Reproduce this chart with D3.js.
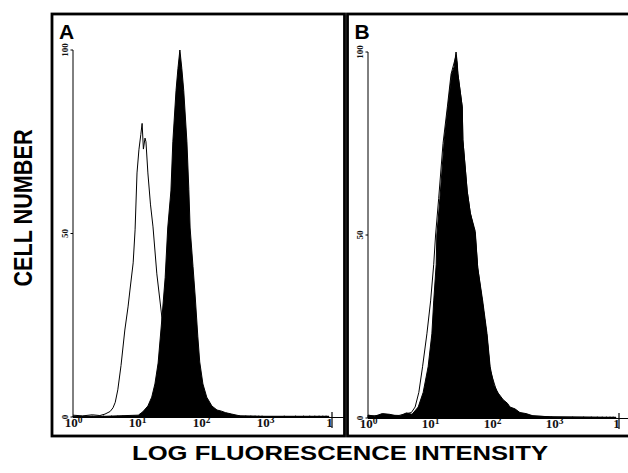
<!DOCTYPE html>
<html><head><meta charset="utf-8">
<script src="https://cdn.jsdelivr.net/npm/d3@7"></script>
<style>body{margin:0;background:#fff}svg{display:block}</style>
</head><body>
<svg id="c" width="628" height="473"></svg>
<script>
// ---------- data ----------
const xTicks = [1, 10, 100, 1000, 10000];
const xTickBase = ["10", "10", "10", "10", "1"];
const xTickExp  = ["0", "1", "2", "3", ""];
const yTicks = [0, 50, 100];
const yTickLabels = ["0", "50", "100"];
const panelLabels = ["A", "B"];
const xTitle = "LOG FLUORESCENCE INTENSITY";
const yTitle = "CELL NUMBER";

// Panel A, open (control) histogram: log10 intensity and cell number
const aOpenLog   = [0, 0.15, 0.3, 0.42, 0.5, 0.58, 0.625, 0.66, 0.70, 0.75, 0.81, 0.86, 0.89, 0.94, 0.97, 1.0, 1.03, 1.06, 1.08, 1.10, 1.125, 1.14, 1.17, 1.21, 1.25, 1.31, 1.39, 1.47, 1.55, 1.64, 1.8, 2.2, 3, 4];
const aOpenCount = [0.5, 0.3, 0.6, 0.4, 0.8, 1.5, 2.5, 4, 7.4, 14, 23.7, 30, 34.6, 42, 51, 66.5, 72.8, 77, 80, 73, 76, 75, 66.5, 58, 51.8, 39, 27, 15, 6, 2, 0.6, 0.3, 0.2, 0.2];
// Panel A, filled (stained) histogram
const aFillLog   = [0, 0.5, 1.02, 1.09, 1.17, 1.23, 1.28, 1.33, 1.39, 1.44, 1.48, 1.53, 1.56, 1.61, 1.64, 1.67, 1.70, 1.73, 1.78, 1.81, 1.83, 1.875, 1.91, 1.95, 1.98, 2.03, 2.09, 2.17, 2.25, 2.32, 2.38, 2.48, 2.61, 3, 4];
const aFillCount = [0.2, 0.2, 0.5, 1.4, 3, 5.4, 9, 14.7, 27, 38, 51.5, 61.6, 75, 89, 95, 100, 95, 89, 75, 62, 51.5, 41, 32.7, 22, 15, 9, 5.4, 3, 1.9, 1.6, 1.2, 0.8, 0.3, 0.1, 0.1];
// Panel B, open (control) histogram
const bOpenLog   = [0, 0.3, 0.5, 0.7, 0.76, 0.82, 0.88, 0.95, 1.01, 1.06, 1.09, 1.14, 1.21, 1.28, 1.34, 1.42, 1.45, 1.52, 1.53, 1.60, 1.65, 1.73, 1.77, 1.85, 1.92, 1.97, 2.1, 2.3, 2.6, 3, 4];
const bOpenCount = [0.5, 0.8, 0.7, 1.5, 3, 7, 14, 23, 32, 42, 50, 60, 75, 85, 94, 99, 94, 85, 76, 62, 56, 50, 41, 31, 22, 13, 6, 2, 0.6, 0.3, 0.2];
// Panel B, filled (stained) histogram
const bFillLog   = [0, 0.11, 0.23, 0.35, 0.45, 0.52, 0.62, 0.71, 0.81, 0.89, 0.97, 1.03, 1.06, 1.10, 1.11, 1.16, 1.23, 1.29, 1.35, 1.39, 1.42, 1.44, 1.45, 1.52, 1.53, 1.60, 1.65, 1.73, 1.77, 1.85, 1.92, 1.97, 2.03, 2.10, 2.18, 2.25, 2.29, 2.37, 2.45, 2.55, 2.66, 2.94, 4];
const bFillCount = [0.8, 0.5, 1.2, 1.0, 0.6, 0.6, 1.4, 1.0, 3, 7, 14, 23, 32, 42, 50, 60, 76, 85, 94, 96, 100, 97, 94, 85, 76, 62, 56, 51, 41, 32, 23, 14, 9, 6.8, 5, 4, 3, 2.5, 1.5, 1.2, 0.6, 0.3, 0.1];

// ---------- layout ----------
const svg = d3.select("#c");
const panels = [
  {label: panelLabels[0], x0: 73, x1: 329, yb: 417, yt: 50, fx0: 52, fx1: 344.5, open: [aOpenLog, aOpenCount], fill: [aFillLog, aFillCount]},
  {label: panelLabels[1], x0: 368, x1: 616, yb: 418, yt: 52, fx0: 347.5, fx1: 640, open: [bOpenLog, bOpenCount], fill: [bFillLog, bFillCount]}
];
const frameTop = 14, frameBot = 436;

panels.forEach(p => {
  const g = svg.append("g");
  const x = d3.scaleLog().domain([1, 1e4]).range([p.x0, p.x1]);
  const y = d3.scaleLinear().domain([0, 100]).range([p.yb, p.yt]);

  // frame
  g.append("rect").attr("x", p.fx0).attr("y", frameTop)
    .attr("width", p.fx1 - p.fx0).attr("height", frameBot - frameTop)
    .attr("fill", "none").attr("stroke", "#000").attr("stroke-width", 2.8);

  // x axis baseline
  g.append("line").attr("x1", p.x0).attr("x2", p.fx1).attr("y1", p.yb + 0.5).attr("y2", p.yb + 0.5)
    .attr("stroke", "#000").attr("stroke-width", 1.2);
  // minor ticks
  const minor = [];
  for (let d = 1; d < 1e4; d *= 10) for (let k = 2; k <= 9; k++) minor.push(d * k);
  g.selectAll(".mt").data(minor).join("line")
    .attr("x1", d => x(d)).attr("x2", d => x(d))
    .attr("y1", p.yb - 1.5).attr("y2", p.yb + 0.5)
    .attr("stroke", "#000").attr("stroke-width", 0.8);
  // end marker
  g.append("line").attr("x1", p.x1 + 3).attr("x2", p.x1 + 3).attr("y1", p.yb - 5).attr("y2", p.yb + 11)
    .attr("stroke", "#000").attr("stroke-width", 1.2);

  const xAxis = d3.axisBottom(x).tickValues(xTicks).tickSize(0).tickFormat(() => "");
  const ax = g.append("g").attr("transform", `translate(0,${p.yb})`).call(xAxis);
  ax.select(".domain").remove();
  ax.selectAll(".tick text").each(function(d, i) {
    const t = d3.select(this).text(null)
      .attr("font-family", "Liberation Serif, serif").attr("font-weight", "bold")
      .attr("fill", "#111").attr("text-anchor", "middle");
    t.append("tspan").attr("font-size", 13).text(xTickBase[i]);
    if (xTickExp[i]) t.append("tspan").attr("font-size", 9.5).attr("dy", -4).text(xTickExp[i]);
  });

  // y axis
  g.append("line").attr("x1", p.x0).attr("x2", p.x0).attr("y1", y(0)).attr("y2", y(100))
    .attr("stroke", "#000").attr("stroke-width", 1);
  g.selectAll(".yt").data(yTicks).join("line")
    .attr("x1", p.x0 - 2.5).attr("x2", p.x0).attr("y1", d => y(d)).attr("y2", d => y(d))
    .attr("stroke", "#000").attr("stroke-width", 1);
  g.selectAll(".yl").data(yTicks).join("text")
    .attr("transform", d => `translate(${p.x0 - 5},${y(d)}) rotate(-90)`)
    .attr("text-anchor", "middle").attr("font-family", "Liberation Serif, serif")
    .attr("font-size", 9).attr("font-weight", "bold").attr("fill", "#111")
    .text((d, i) => yTickLabels[i]);

  // histograms
  const open = p.open[0].map((l, i) => [Math.pow(10, l), p.open[1][i]]);
  const fill = p.fill[0].map((l, i) => [Math.pow(10, l), p.fill[1][i]]);
  const line = d3.line().x(d => x(d[0])).y(d => y(d[1]));
  const area = d3.area().x(d => x(d[0])).y0(y(0)).y1(d => y(d[1]));
  g.append("path").attr("d", line(open)).attr("fill", "none").attr("stroke", "#000").attr("stroke-width", 1);
  g.append("path").attr("d", area(fill)).attr("fill", "#000").attr("stroke", "#000").attr("stroke-width", 1);

  // panel label
  g.append("text").attr("x", p.fx0 + 7).attr("y", 39)
    .attr("font-family", "Liberation Sans, Arial, sans-serif").attr("font-weight", "bold")
    .attr("font-size", 21).text(p.label);
});

// titles
svg.append("text").attr("transform", "translate(32,208) rotate(-90)")
  .attr("text-anchor", "middle").attr("font-family", "Liberation Sans, Arial, sans-serif")
  .attr("font-weight", "bold").attr("font-size", 25)
  .attr("textLength", 157).attr("lengthAdjust", "spacingAndGlyphs").text(yTitle);
svg.append("text").attr("x", 132).attr("y", 460)
  .attr("font-family", "Liberation Sans, Arial, sans-serif")
  .attr("font-weight", "bold").attr("font-size", 21)
  .attr("textLength", 416).attr("lengthAdjust", "spacingAndGlyphs").text(xTitle);
</script>
</body></html>
